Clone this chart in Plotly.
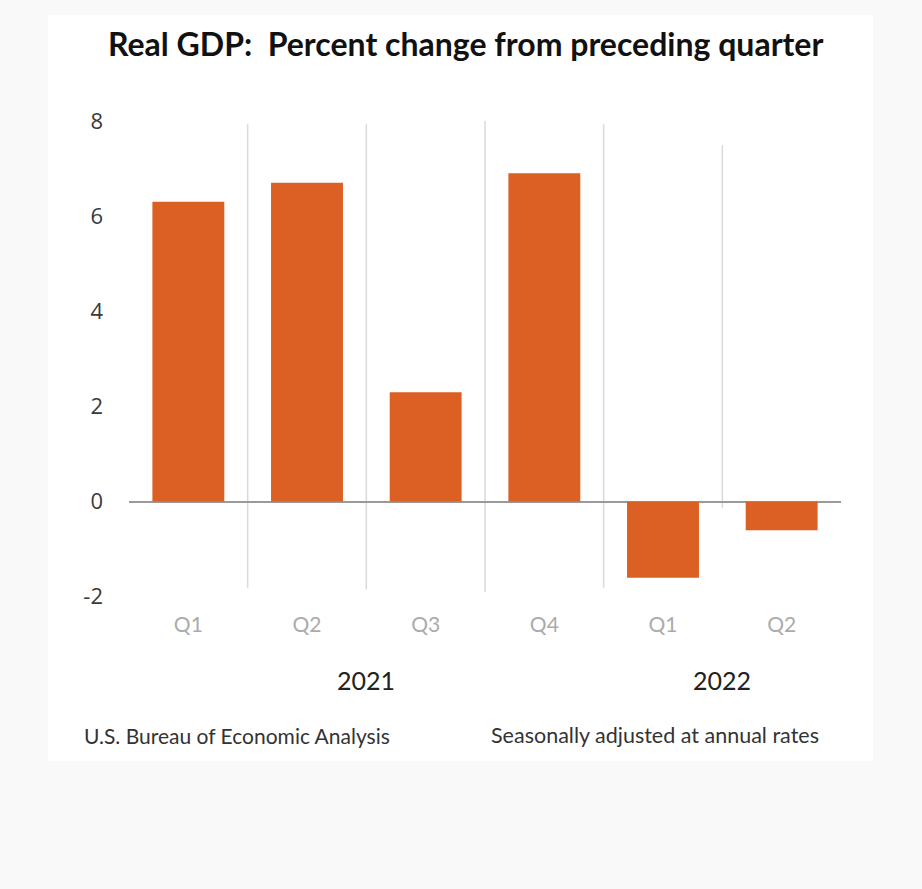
import plotly.graph_objects as go

# Real GDP, percent change from preceding quarter (SAAR)
quarters = ["2021 Q1", "2021 Q2", "2021 Q3", "2021 Q4", "2022 Q1", "2022 Q2"]
quarter_labels = ["Q1", "Q2", "Q3", "Q4", "Q1", "Q2"]
gdp_change = [6.3, 6.7, 2.3, 6.9, -1.6, -0.6]
years = ["2021", "2022"]
year_centers = [1.5, 4.5]
y_ticks = [-2, 0, 2, 4, 6, 8]
y_tick_labels = ["-2", "0", "2", "4", "6", "8"]

W, H = 922, 889
BAR = "#dc5f24"
FONT = "Lato"


def px(x):
    return x / W


def py(y):
    return 1 - y / H


fig = go.Figure()
fig.add_trace(go.Bar(
    x=list(range(len(quarters))),
    y=gdp_change,
    marker=dict(color=BAR, line=dict(width=0)),
    hovertext=quarters,
    width=0.606,
))

# white card behind the chart, then separators between quarters
shapes = [dict(type="rect", xref="paper", yref="paper",
               x0=px(48), x1=px(873), y0=py(763), y1=py(12),
               fillcolor="white", line=dict(width=0), layer="below")]
sep_ends = [(7.93, -1.81), (7.93, -1.85), (8.0, -1.9), (7.93, -1.81), (7.49, -0.13)]
for i, (top, bot) in enumerate(sep_ends):
    shapes.append(dict(type="line", xref="x", yref="y",
                       x0=i + 0.5, x1=i + 0.5, y0=bot, y1=top,
                       line=dict(color="#d9d9d9", width=1.5), layer="below"))

annotations = [
    dict(text="<b>Real GDP:  Percent change from preceding quarter</b>",
         xref="paper", yref="paper", x=px(465), y=py(41),
         xanchor="center", yanchor="middle", showarrow=False,
         font=dict(family=FONT, size=32, color="#111111")),
    dict(text="U.S. Bureau of Economic Analysis",
         xref="paper", yref="paper", x=px(82), y=py(737),
         xanchor="left", yanchor="middle", showarrow=False,
         font=dict(family=FONT, size=21, color="#333333")),
    dict(text="Seasonally adjusted at annual rates",
         xref="paper", yref="paper", x=px(821), y=py(737),
         xanchor="right", yanchor="middle", showarrow=False,
         font=dict(family=FONT, size=21.5, color="#333333")),
]
for yr, xc in zip(years, year_centers):
    annotations.append(dict(text=yr, xref="x", yref="paper", x=xc, y=py(682),
                            xanchor="center", yanchor="middle", showarrow=False,
                            font=dict(family=FONT, size=25, color="#222222")))

y_top_px, y_bot_px = 106, 609
zero_px, unit_px = 502.0, 47.9

fig.update_layout(
    width=W, height=H,
    margin=dict(l=0, r=0, t=0, b=0),
    paper_bgcolor="#f9f9f9",
    plot_bgcolor="rgba(0,0,0,0)",
    showlegend=False,
    bargap=0.394,
    shapes=shapes,
    annotations=annotations,
    xaxis=dict(
        domain=[px(129), px(841)],
        range=[-0.5, 5.5],
        tickvals=list(range(len(quarters))),
        ticktext=quarter_labels,
        showgrid=False, zeroline=False, showline=False, ticks="",
        tickfont=dict(family=FONT, size=21, color="#ababab"),
        ticklabelstandoff=2,
    ),
    yaxis=dict(
        domain=[py(y_bot_px), py(y_top_px)],
        range=[-(y_bot_px - zero_px) / unit_px, (zero_px - y_top_px) / unit_px],
        tickvals=y_ticks,
        ticktext=y_tick_labels,
        showgrid=False, showline=False, ticks="",
        zeroline=True, zerolinecolor="#9a9a9a", zerolinewidth=2,
        tickfont=dict(family="Open Sans", size=22, color="#3a3a3a"),
        ticklabelstandoff=25,
    ),
)

fig.write_html("out.html")
